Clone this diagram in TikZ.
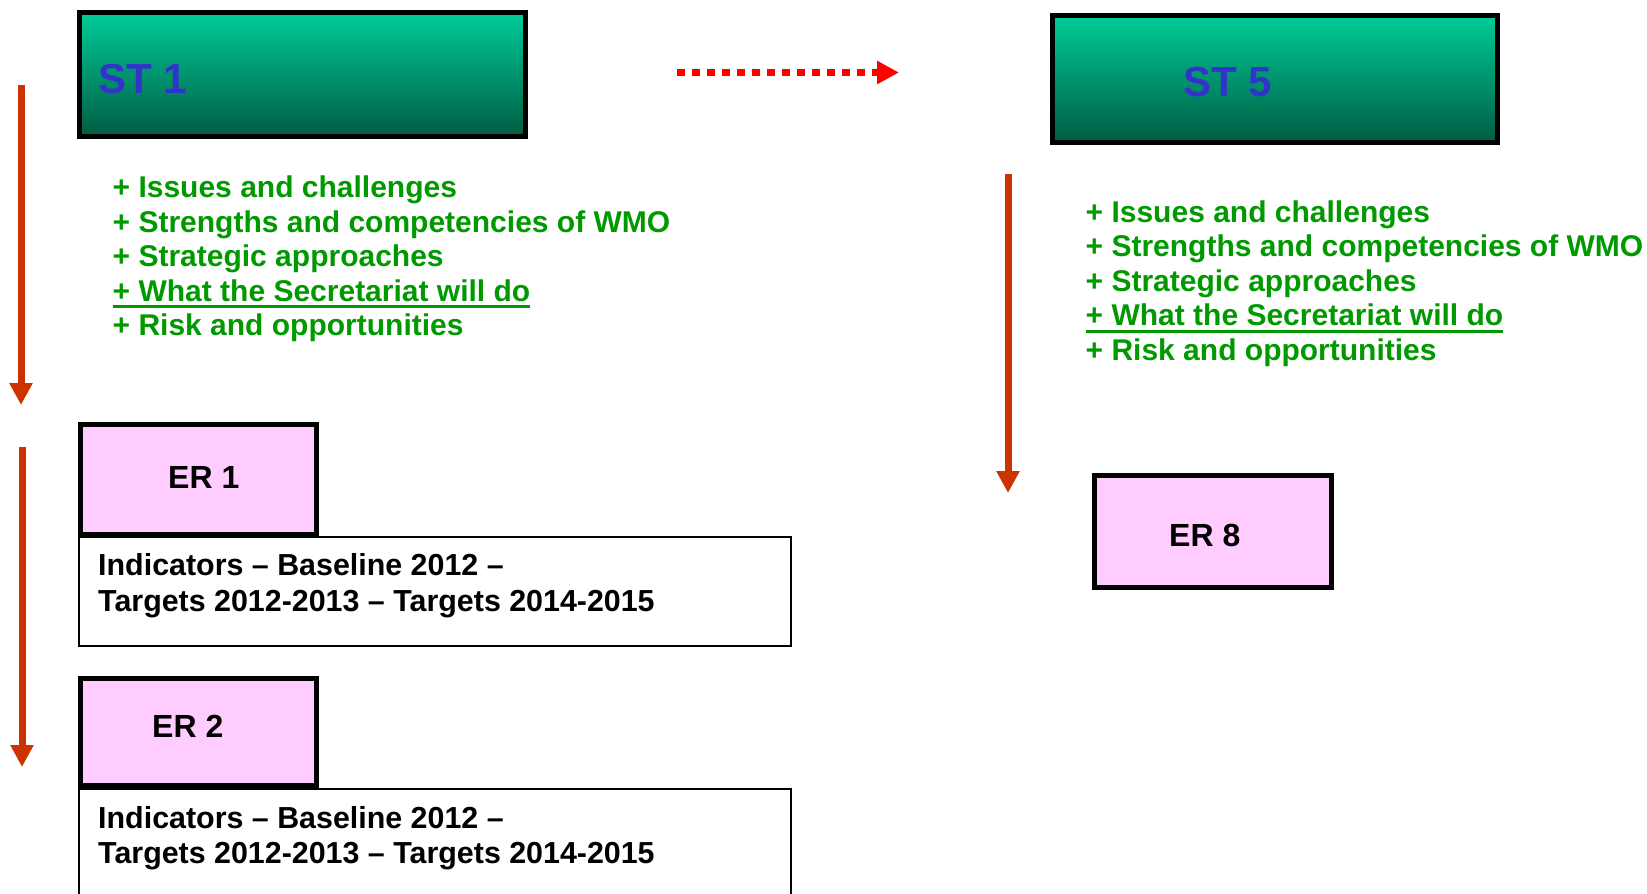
\documentclass[tikz,border=0pt]{standalone}
\usepackage{fontspec}
\setmainfont{Liberation Sans}
\usetikzlibrary{arrows.meta}
\definecolor{stblue}{RGB}{51,51,204}
\definecolor{sttop}{RGB}{0,204,153}
\definecolor{stbot}{RGB}{0,92,66}
\definecolor{itemgreen}{RGB}{0,153,0}
\definecolor{flowred}{RGB}{204,51,0}
\definecolor{dotred}{RGB}{255,0,0}
\definecolor{erpink}{RGB}{255,204,255}
\newsavebox\ulbox
\newcommand\myul[1]{\sbox\ulbox{#1}\rlap{\rule[-7pt]{\wd\ulbox}{3pt}}\usebox\ulbox}
\begin{document}
\begin{tikzpicture}[x=1pt,y=-1pt,
  stbox/.style={draw=black, line width=5pt, top color=sttop, bottom color=stbot, inner sep=0pt},
  sttext/.style={anchor=base west, inner sep=0pt, text=stblue, font=\fontsize{42}{46}\selectfont\bfseries},
  itemtext/.style={anchor=base west, inner sep=0pt, text=itemgreen, font=\fontsize{30}{34}\selectfont\bfseries},
  erbox/.style={draw=black, line width=5pt, fill=erpink, inner sep=0pt, minimum width=236.5pt},
  ertext/.style={anchor=base west, inner sep=0pt, font=\fontsize{32}{36}\selectfont\bfseries},
  indbox/.style={draw=black, line width=1.5pt, fill=white, inner sep=0pt, minimum width=712pt},
  indtext/.style={anchor=base west, inner sep=0pt, font=\fontsize{30.4}{34}\selectfont\bfseries},
  flow/.style={draw=flowred, line width=7pt, -{Triangle[length=22pt,width=22pt]}},
  dotarrow/.style={draw=dotred, line width=7pt, dash pattern=on 7.5pt off 7.5pt, -{Triangle[length=22pt,width=22pt]}}
]
\useasboundingbox (0,0) rectangle (1647,894);
\clip (0,0) rectangle (1647,894);

% ST boxes
\node[stbox, minimum width=446pt, minimum height=124pt] (st1) at (302.5,74.5) {};
\node[sttext] (st1t) at (98,93) {ST 1};
\node[stbox, minimum width=445pt, minimum height=127pt] (st5) at (1275,79) {};
\node[sttext] (st5t) at (1183,96) {ST 5};

% dotted arrow
\coordinate (ds) at (677,72.5);
\coordinate (de) at (899,72.5);
\draw[dotarrow] (ds) -- (de);

% green items left
\node[itemtext] (l1) at (112.5,197.5) {+ Issues and challenges};
\node[itemtext] (l2) at (112.5,232) {+ Strengths and competencies of WMO};
\node[itemtext] (l3) at (112.5,266.5) {+ Strategic approaches};
\node[itemtext] (l4) at (112.5,301) {\myul{+ What the Secretariat will do}};
\node[itemtext] (l5) at (112.5,335.5) {+ Risk and opportunities};

% green items right
\node[itemtext] (r1) at (1085.5,222) {+ Issues and challenges};
\node[itemtext] (r2) at (1085.5,256.5) {+ Strengths and competencies of WMO};
\node[itemtext] (r3) at (1085.5,291) {+ Strategic approaches};
\node[itemtext] (r4) at (1085.5,325.5) {\myul{+ What the Secretariat will do}};
\node[itemtext] (r5) at (1085.5,360) {+ Risk and opportunities};

% indicator boxes
\node[indbox, minimum height=109pt] (ind1) at (435,591.5) {};
\node[indtext] (ind1a) at (98,575) {Indicators -- Baseline 2012 --};
\node[indtext] (ind1b) at (98,611) {Targets 2012-2013 -- Targets 2014-2015};
\node[indbox, minimum height=200pt] (ind2) at (435,889) {};
\node[indtext] (ind2a) at (98,828) {Indicators -- Baseline 2012 --};
\node[indtext] (ind2b) at (98,863) {Targets 2012-2013 -- Targets 2014-2015};

% ER boxes
\node[erbox, minimum height=110pt] (er1) at (198.25,479.5) {};
\node[ertext] (er1t) at (168,488) {ER 1};
\node[erbox, minimum height=107pt] (er2) at (198.25,732) {};
\node[ertext] (er2t) at (152,737) {ER 2};
\node[erbox, minimum width=237pt, minimum height=112pt] (er8) at (1213,531.5) {};
\node[ertext] (er8t) at (1169,546) {ER 8};

% red flow arrows
\coordinate (a1s) at (21,85);
\coordinate (a1e) at (21,405);
\coordinate (a2s) at (1008,174);
\coordinate (a2e) at (1008,493);
\coordinate (a3s) at (22,447);
\coordinate (a3e) at (22,767);
\draw[flow] (a1s) -- (a1e);
\draw[flow] (a2s) -- (a2e);
\draw[flow] (a3s) -- (a3e);
\end{tikzpicture}
\end{document}
